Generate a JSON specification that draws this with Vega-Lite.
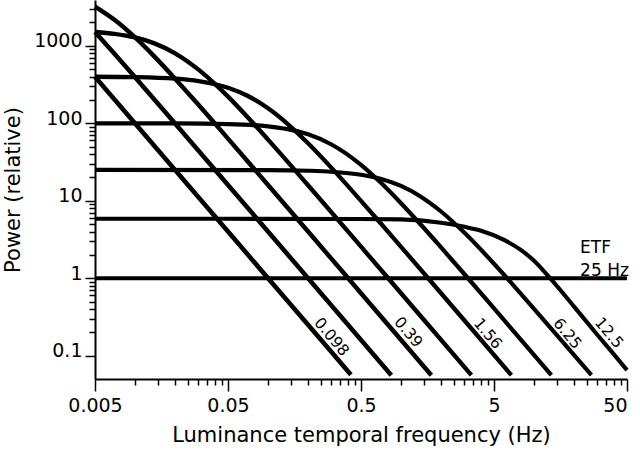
{
  "$schema": "https://vega.github.io/schema/vega-lite/v6.json",
  "width": 532,
  "height": 379,
  "autosize": {"type": "none"},
  "padding": {"left": 95, "top": 0, "right": 13, "bottom": 75},
  "background": "white",
  "config": {
    "view": {"stroke": null},
    "font": "DejaVu Sans",
    "axis": {"grid": false, "domainColor": "black", "domainWidth": 2, "tickColor": "black", "tickWidth": 1.5, "labelColor": "black", "titleColor": "black", "labelFont": "DejaVu Sans", "titleFont": "DejaVu Sans", "titleFontWeight": "normal", "labelOverlap": false}
  },
  "encoding": {
    "x": {
      "field": "f", "type": "quantitative",
      "scale": {"type": "log", "domain": [0.005, 50]},
      "title": "Luminance temporal frequency (Hz)",
      "axis": {
        "values": [0.005,0.01,0.015,0.02,0.025,0.03,0.035,0.04,0.045,0.05,0.1,0.15,0.2,0.25,0.3,0.35,0.4,0.45,0.5,1,1.5,2,2.5,3,3.5,4,4.5,5,10,15,20,25,30,35,40,45,50],
        "labelExpr": "indexof([0.005,0.05,0.5,5,50], datum.value) >= 0 ? format(datum.value, '~g') : ''",
        "tickSize": {"condition": {"test": "indexof([0.005,0.05,0.5,5,50], datum.value) >= 0", "value": 12}, "value": 6},
        "labelAlign": {"condition": {"test": "datum.value >= 50", "value": "right"}, "value": "center"},
        "labelFontSize": 19,
        "labelPadding": 5,
        "titleFontSize": 21,
        "titlePadding": 9
      }
    },
    "y": {
      "field": "p", "type": "quantitative",
      "scale": {"type": "log", "domain": [0.05, 3900]},
      "title": "Power (relative)",
      "axis": {
        "values": [0.1,0.2,0.3,0.4,0.5,0.6,0.7,0.8,0.9,1,2,3,4,5,6,7,8,9,10,20,30,40,50,60,70,80,90,100,200,300,400,500,600,700,800,900,1000,2000,3000],
        "labelExpr": "indexof([0.1,1,10,100,1000], datum.value) >= 0 ? format(datum.value, '~g') : ''",
        "tickSize": {"condition": {"test": "indexof([0.1,1,10,100,1000], datum.value) >= 0", "value": 10}, "value": 6},
        "labelBaseline": "alphabetic",
        "labelOffset": 1,
        "labelFontSize": 19,
        "labelPadding": 3,
        "titleFontSize": 21,
        "titlePadding": 10
      }
    }
  },
  "layer": [
    {
      "data": {"values": [
        {"s": "s0", "f": 0.005, "p": 398.4}, {"s": "s0", "f": 0.02, "p": 25.0}, {"s": "s0", "f": 0.1, "p": 1.0}, {"s": "s0", "f": 0.42, "p": 0.0567},
        {"s": "s1", "f": 0.005, "p": 1505.9}, {"s": "s1", "f": 0.007, "p": 791.1}, {"s": "s1", "f": 0.01, "p": 393.8}, {"s": "s1", "f": 0.02, "p": 99.6}, {"s": "s1", "f": 0.05, "p": 15.99}, {"s": "s1", "f": 0.2, "p": 1.0}, {"s": "s1", "f": 0.845, "p": 0.056},
        {"s": "s2", "f": 0.005, "p": 3200}, {"s": "s2", "f": 0.007, "p": 2162}, {"s": "s2", "f": 0.01, "p": 1280}, {"s": "s2", "f": 0.014, "p": 724}, {"s": "s2", "f": 0.02, "p": 376.5}, {"s": "s2", "f": 0.03, "p": 173}, {"s": "s2", "f": 0.05, "p": 63.4}, {"s": "s2", "f": 0.1, "p": 15.96}, {"s": "s2", "f": 0.2, "p": 4.0}, {"s": "s2", "f": 0.5, "p": 0.64}, {"s": "s2", "f": 1.69, "p": 0.056},
        {"s": "s3", "f": 0.005, "p": 1506}, {"s": "s3", "f": 0.007, "p": 1425}, {"s": "s3", "f": 0.01, "p": 1280}, {"s": "s3", "f": 0.014, "p": 1074}, {"s": "s3", "f": 0.02, "p": 800}, {"s": "s3", "f": 0.03, "p": 492}, {"s": "s3", "f": 0.04, "p": 320}, {"s": "s3", "f": 0.05, "p": 220.7}, {"s": "s3", "f": 0.07, "p": 120.8}, {"s": "s3", "f": 0.1, "p": 61.5}, {"s": "s3", "f": 0.2, "p": 15.84}, {"s": "s3", "f": 0.5, "p": 2.556}, {"s": "s3", "f": 1, "p": 0.64}, {"s": "s3", "f": 3.38, "p": 0.056},
        {"s": "s4", "f": 0.005, "p": 398.4}, {"s": "s4", "f": 0.01, "p": 393.8}, {"s": "s4", "f": 0.02, "p": 376.5}, {"s": "s4", "f": 0.03, "p": 350.7}, {"s": "s4", "f": 0.05, "p": 287.6}, {"s": "s4", "f": 0.07, "p": 226.5}, {"s": "s4", "f": 0.1, "p": 156.1}, {"s": "s4", "f": 0.14, "p": 98.5}, {"s": "s4", "f": 0.2, "p": 55.2}, {"s": "s4", "f": 0.3, "p": 26.56}, {"s": "s4", "f": 0.5, "p": 9.98}, {"s": "s4", "f": 0.7, "p": 5.16}, {"s": "s4", "f": 1, "p": 2.544}, {"s": "s4", "f": 2, "p": 0.639}, {"s": "s4", "f": 6.76, "p": 0.056},
        {"s": "s5", "f": 0.005, "p": 100}, {"s": "s5", "f": 0.02, "p": 99.6}, {"s": "s5", "f": 0.05, "p": 97.6}, {"s": "s5", "f": 0.1, "p": 91.1}, {"s": "s5", "f": 0.14, "p": 83.9}, {"s": "s5", "f": 0.2, "p": 71.9}, {"s": "s5", "f": 0.3, "p": 53.2}, {"s": "s5", "f": 0.5, "p": 29.06}, {"s": "s5", "f": 0.7, "p": 17.29}, {"s": "s5", "f": 1, "p": 9.29}, {"s": "s5", "f": 1.4, "p": 4.965}, {"s": "s5", "f": 2, "p": 2.496}, {"s": "s5", "f": 3, "p": 1.125}, {"s": "s5", "f": 5, "p": 0.408}, {"s": "s5", "f": 13.5, "p": 0.0562},
        {"s": "s6", "f": 0.005, "p": 25}, {"s": "s6", "f": 0.1, "p": 24.85}, {"s": "s6", "f": 0.2, "p": 24.4}, {"s": "s6", "f": 0.3, "p": 23.7}, {"s": "s6", "f": 0.5, "p": 21.69}, {"s": "s6", "f": 0.7, "p": 19.24}, {"s": "s6", "f": 1, "p": 15.52}, {"s": "s6", "f": 1.4, "p": 11.38}, {"s": "s6", "f": 2, "p": 7.265}, {"s": "s6", "f": 3, "p": 3.85}, {"s": "s6", "f": 5, "p": 1.5375}, {"s": "s6", "f": 7, "p": 0.809}, {"s": "s6", "f": 10, "p": 0.403}, {"s": "s6", "f": 27, "p": 0.0561},
        {"s": "s7", "f": 0.005, "p": 5.85}, {"s": "s7", "f": 0.5, "p": 5.82}, {"s": "s7", "f": 1, "p": 5.75}, {"s": "s7", "f": 2, "p": 5.2}, {"s": "s7", "f": 3, "p": 4.6}, {"s": "s7", "f": 4, "p": 4.1}, {"s": "s7", "f": 6, "p": 3.1}, {"s": "s7", "f": 8, "p": 2.3}, {"s": "s7", "f": 10, "p": 1.68}, {"s": "s7", "f": 13.2, "p": 1.0}, {"s": "s7", "f": 20, "p": 0.43}, {"s": "s7", "f": 30, "p": 0.185}, {"s": "s7", "f": 40, "p": 0.103}, {"s": "s7", "f": 50, "p": 0.065},
        {"s": "etf", "f": 0.005, "p": 1}, {"s": "etf", "f": 50, "p": 1}
      ]},
      "mark": {"type": "line", "interpolate": "monotone", "color": "black", "strokeCap": "butt"},
      "encoding": {
        "strokeWidth": {
          "field": "s", "type": "ordinal",
          "scale": {"domain": ["s0", "s1", "s2", "s3", "s4", "s5", "s6", "s7", "etf"], "range": [4.6, 4.0, 3.6, 3.1, 2.7, 2.3, 1.9, 1.5, 2.0]},
          "legend": null
        }
      }
    },
    {
      "data": {"values": [
        {"label": "0.098", "f": 0.301, "p": 0.175},
        {"label": "0.39", "f": 1.135, "p": 0.201},
        {"label": "1.56", "f": 4.5, "p": 0.193},
        {"label": "6.25", "f": 17.8, "p": 0.193},
        {"label": "12.5", "f": 36.6, "p": 0.197}
      ]},
      "mark": {"type": "text", "angle": 50, "align": "center", "baseline": "middle", "fontSize": 15.5, "font": "DejaVu Sans", "color": "black"},
      "encoding": {"text": {"field": "label"}}
    },
    {
      "data": {"values": [
        {"label": "ETF", "f": 22.2, "p": 2.1},
        {"label": "25 Hz", "f": 22.2, "p": 1.061}
      ]},
      "mark": {"type": "text", "align": "left", "baseline": "alphabetic", "fontSize": 17, "font": "DejaVu Sans", "color": "black"},
      "encoding": {"text": {"field": "label"}}
    }
  ]
}
